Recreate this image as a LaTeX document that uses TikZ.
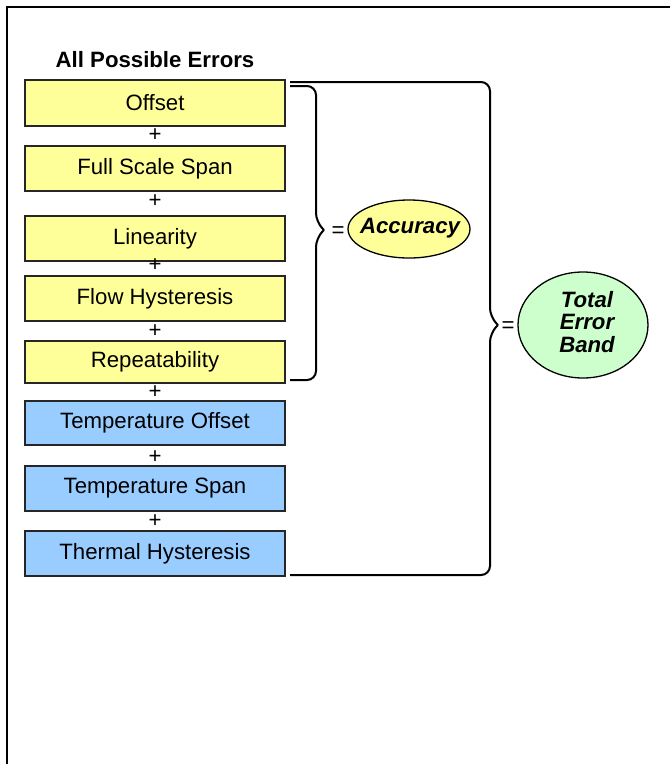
\documentclass[tikz,border=0pt]{standalone}
\usepackage{fontspec}
\setmainfont{Liberation Sans}
\definecolor{boxyellow}{RGB}{255,255,153}
\definecolor{boxblue}{RGB}{153,204,255}
\definecolor{boxgreen}{RGB}{204,255,204}
\begin{document}
\begin{tikzpicture}[x=1pt,y=-1pt,
  txt/.style={font=\fontsize{22.2}{23}\selectfont},
  errbox/.style={txt,draw=black!85,line width=1.3pt,minimum width=260pt,minimum height=45pt,inner sep=0pt,anchor=center},
  ybox/.style={errbox,fill=boxyellow},
  bbox/.style={errbox,fill=boxblue},
  plus/.style={txt,inner sep=0pt},
  brace/.style={line width=2pt,rounded corners=9pt},
  outline/.style={draw=black,line width=1.3pt},
  result/.style={inner sep=0pt,font=\fontsize{22.2}{22.5}\selectfont\bfseries\itshape,align=center}]
\useasboundingbox (0,0) rectangle (670,764);
\fill[white] (0,0) rectangle (670,764);
\draw[line width=2.3pt] (7,764) -- (7,7) -- (670,7);

\node[txt,font=\fontsize{22.2}{23}\selectfont\bfseries] (title) at (155,60) {All Possible Errors};

\node[ybox,minimum height=46pt] (off) at (155,103) {Offset};
\node[ybox] (fss) at (155,168.5) {Full Scale Span};
\node[ybox] (lin) at (155,238.5) {Linearity};
\node[ybox] (flow) at (155,298.5) {Flow Hysteresis};
\node[ybox,minimum height=42pt] (rep) at (155,362) {Repeatability};
\node[bbox,minimum height=44pt] (toff) at (155,423) {Temperature Offset};
\node[bbox] (tspan) at (155,488.5) {Temperature Span};
\node[bbox] (thyst) at (155,553.5) {Thermal Hysteresis};

\node[plus] (p1) at (155,135) {+};
\node[plus] (p2) at (155,201) {+};
\node[plus] (p3) at (155,265) {+};
\node[plus] (p4) at (155,331) {+};
\node[plus] (p5) at (155,392) {+};
\node[plus] (p6) at (155,457) {+};
\node[plus] (p7) at (155,521) {+};

\fill[boxyellow] (409,229) ellipse [x radius=61, y radius=29];
\draw[outline] (409,229) ellipse [x radius=61, y radius=29];
\node[result] (acc) at (410,228) {Accuracy};
\fill[boxgreen] (583,325) ellipse [x radius=65, y radius=53];
\draw[outline] (583,325) ellipse [x radius=65, y radius=53];
\node[result] (teb) at (587,322) {Total\\Error\\Band};

% small brace (accuracy)
\coordinate (a1) at (290,86);
\coordinate (a2) at (316,86);
\coordinate (atip) at (324,230);
\coordinate (a3) at (316,380);
\coordinate (a4) at (290,380);
\draw[brace] (a1) -- (a2) -- (316,222) -- (atip);
\draw[brace] (atip) -- (316,238) -- (a3) -- (a4);
\node[txt,inner sep=0pt] (eq1) at (338,232) {=};

% big brace (total error band)
\coordinate (b1) at (290,82);
\coordinate (b2) at (490,82);
\coordinate (btip) at (498,325);
\coordinate (b3) at (490,575);
\coordinate (b4) at (290,575);
\draw[brace] (b1) -- (b2) -- (490,317) -- (btip);
\draw[brace] (btip) -- (490,333) -- (b3) -- (b4);
\node[txt,inner sep=0pt] (eq2) at (508,327) {=};
\end{tikzpicture}
\end{document}
